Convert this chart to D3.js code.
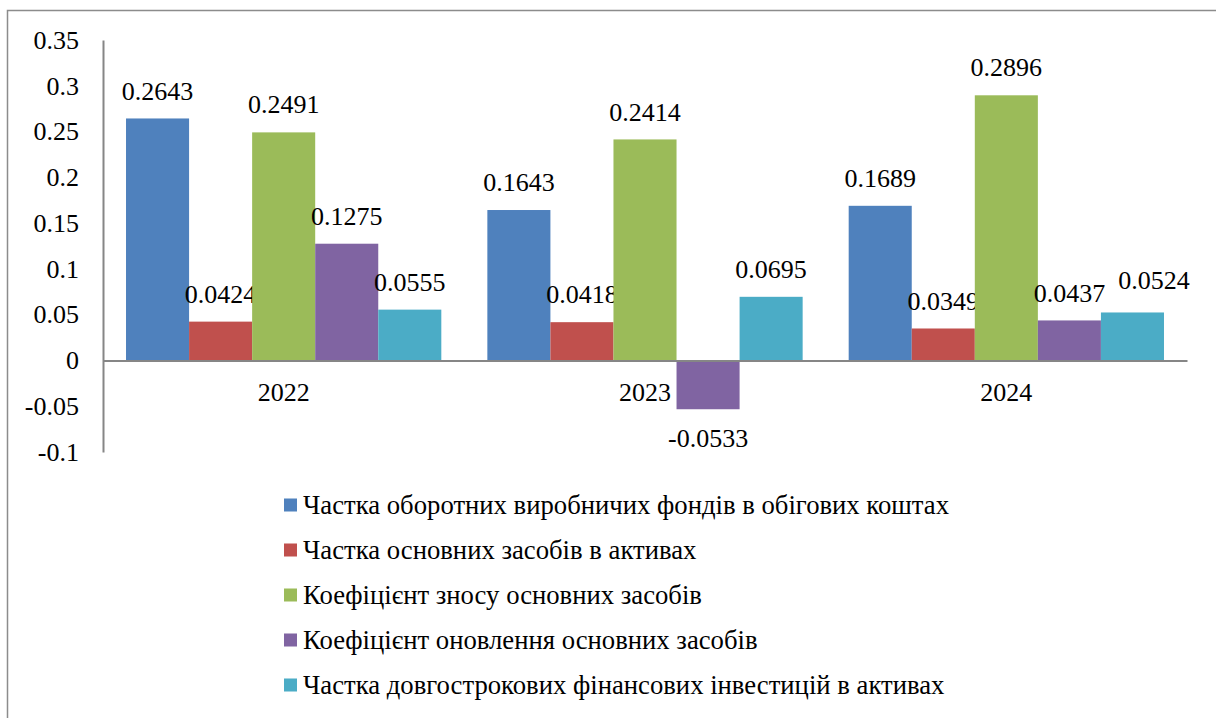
<!DOCTYPE html>
<html>
<head>
<meta charset="utf-8">
<script src="https://cdn.jsdelivr.net/npm/d3@7"></script>
<style>
  html, body { margin: 0; padding: 0; background: #fff; }
  svg { display: block; }
</style>
</head>
<body>
<svg id="chart" width="1216" height="718"></svg>
<script>
const categories = ["2022", "2023", "2024"];
const seriesNames = [
  "Частка оборотних виробничих фондів в обігових коштах",
  "Частка основних засобів в активах",
  "Коефіцієнт зносу основних засобів",
  "Коефіцієнт оновлення основних засобів",
  "Частка довгострокових фінансових інвестицій в активах"
];
const seriesColors = ["#4F81BD", "#C0504D", "#9BBB59", "#8064A2", "#4BACC6"];
const s1 = [0.2643, 0.1643, 0.1689];
const s2 = [0.0424, 0.0418, 0.0349];
const s3 = [0.2491, 0.2414, 0.2896];
const s4 = [0.1275, -0.0533, 0.0437];
const s5 = [0.0555, 0.0695, 0.0524];
const seriesValues = [s1, s2, s3, s4, s5];
const yTicks = [-0.1, -0.05, 0, 0.05, 0.1, 0.15, 0.2, 0.25, 0.3, 0.35];
const yTickLabels = ["-0.1", "-0.05", "0", "0.05", "0.1", "0.15", "0.2", "0.25", "0.3", "0.35"];

const FONT = "Liberation Serif";
const svg = d3.select("#chart");

// outer frame
svg.append("rect")
  .attr("x", 7.5).attr("y", 10.5)
  .attr("width", 1300).attr("height", 800)
  .attr("fill", "none").attr("stroke", "#8c8c8c").attr("stroke-width", 1.5);

const plot = { left: 103, right: 1187, top: 40, bottom: 452 };

const x = d3.scaleBand().domain(categories).range([plot.left, plot.right]).padding(0);
const xs = d3.scaleBand().domain(d3.range(seriesNames.length))
  .range([0, x.bandwidth()]).paddingInner(0).paddingOuter(0.365);
const y = d3.scaleLinear().domain([-0.1, 0.35]).range([plot.bottom, plot.top]);

// y axis
const yAxis = d3.axisLeft(y).tickValues(yTicks).tickSize(0).tickPadding(24)
  .tickFormat((d, i) => yTickLabels[i]);
const ya = svg.append("g").attr("transform", `translate(${plot.left},0)`).call(yAxis);
ya.select(".domain").attr("stroke", "#868686").attr("stroke-width", 2);
ya.selectAll("text")
  .style("font-family", FONT)
  .style("font-size", "26px").attr("fill", "#000");

// bars
const labelNodes = categories.map(() => []);
seriesValues.forEach((vals, si) => {
  const g = svg.append("g");
  g.selectAll("rect").data(vals).join("rect")
    .attr("x", (d, i) => x(categories[i]) + xs(si))
    .attr("width", xs.bandwidth())
    .attr("y", d => y(Math.max(0, d)))
    .attr("height", d => Math.abs(y(d) - y(0)))
    .attr("fill", seriesColors[si]);
  g.selectAll("text").data(vals).join("text")
    .attr("x", (d, i) => x(categories[i]) + xs(si) + xs.bandwidth() / 2)
    .attr("y", d => d >= 0 ? y(d) - 28 : y(d) + 29)
    .attr("dy", "0.35em")
    .attr("text-anchor", "middle")
    .style("font-family", FONT)
    .style("font-size", "26px")
    .attr("fill", "#000")
    .text(d => d.toFixed(4))
    .each(function (d, i) { labelNodes[i].push(this); });
});

// simple label collision avoidance: shift a label right if it overlaps the previous one
labelNodes.forEach(nodes => {
  for (let k = 1; k < nodes.length; k++) {
    const prev = nodes[k - 1].getBBox();
    const cur = nodes[k].getBBox();
    const vOverlap = cur.y < prev.y + prev.height && prev.y < cur.y + cur.height;
    if (vOverlap && cur.x < prev.x + prev.width + 4) {
      const shift = prev.x + prev.width + 13 - cur.x;
      nodes[k].setAttribute("x", +nodes[k].getAttribute("x") + shift);
      nodes[k].setAttribute("y", +nodes[k].getAttribute("y") - 5);
    }
  }
});

// x axis (zero line)
const xAxis = d3.axisBottom(x).tickSize(0).tickPadding(22);
const xa = svg.append("g").attr("transform", `translate(0,${y(0)})`).call(xAxis);
xa.select(".domain").attr("stroke", "#868686").attr("stroke-width", 2);
xa.selectAll("text")
  .style("font-family", FONT)
  .style("font-size", "26px").attr("fill", "#000");

// legend
const legend = svg.append("g");
seriesNames.forEach((name, i) => {
  const cy = 505 + i * 45;
  legend.append("rect")
    .attr("x", 284).attr("y", cy - 6.5)
    .attr("width", 13).attr("height", 13)
    .attr("fill", seriesColors[i]);
  legend.append("text")
    .attr("x", 303).attr("y", cy).attr("dy", "0.35em")
    .style("font-family", FONT)
    .style("font-size", "26.7px")
    .attr("fill", "#000")
    .text(name);
});
</script>
</body>
</html>
